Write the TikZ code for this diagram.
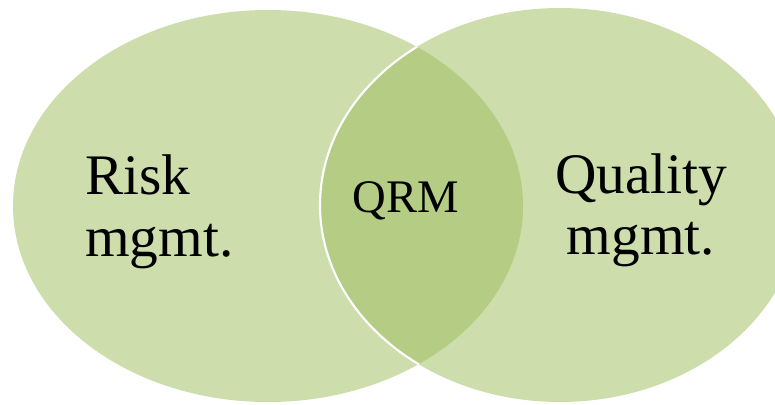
\documentclass[tikz,border=0pt]{standalone}
\usepackage{fontspec}
\setmainfont{Liberation Serif}
\usetikzlibrary{positioning}
\definecolor{vennfill}{RGB}{205,221,172}
\definecolor{vennoverlap}{RGB}{181,204,132}

\begin{document}
\begin{tikzpicture}[x=0.75pt, y=0.75pt,
    setfill/.style={fill=vennfill},
    overlapfill/.style={fill=vennoverlap},
    rim/.style={draw=white, line width=1.6},
    bigtext/.style={font=\fontsize{43}{46.5}\selectfont, inner sep=0pt},
    midtext/.style={font=\fontsize{35}{40}\selectfont, inner sep=0pt}
]
\useasboundingbox (0,0) rectangle (775,404);

% Risk set and quality set
\path[setfill] (268,198) ellipse [x radius=255, y radius=196];
\path[setfill] (560,199) ellipse [x radius=240, y radius=197];

% Overlap
\begin{scope}
    \clip (268,198) ellipse [x radius=255, y radius=196];
    \path[overlapfill] (560,199) ellipse [x radius=240, y radius=197];
    \path[rim] (560,199) ellipse [x radius=240, y radius=197];
\end{scope}

% Labels
\node[bigtext, align=left, anchor=base west] (risk) at (85,147) {Risk\\mgmt.};
\node[bigtext, align=center, anchor=base] (quality) at (641,149) {Quality\\mgmt.};
\node[midtext, anchor=base] (qrm) at (406,191) {QRM};

\end{tikzpicture}
\end{document}
